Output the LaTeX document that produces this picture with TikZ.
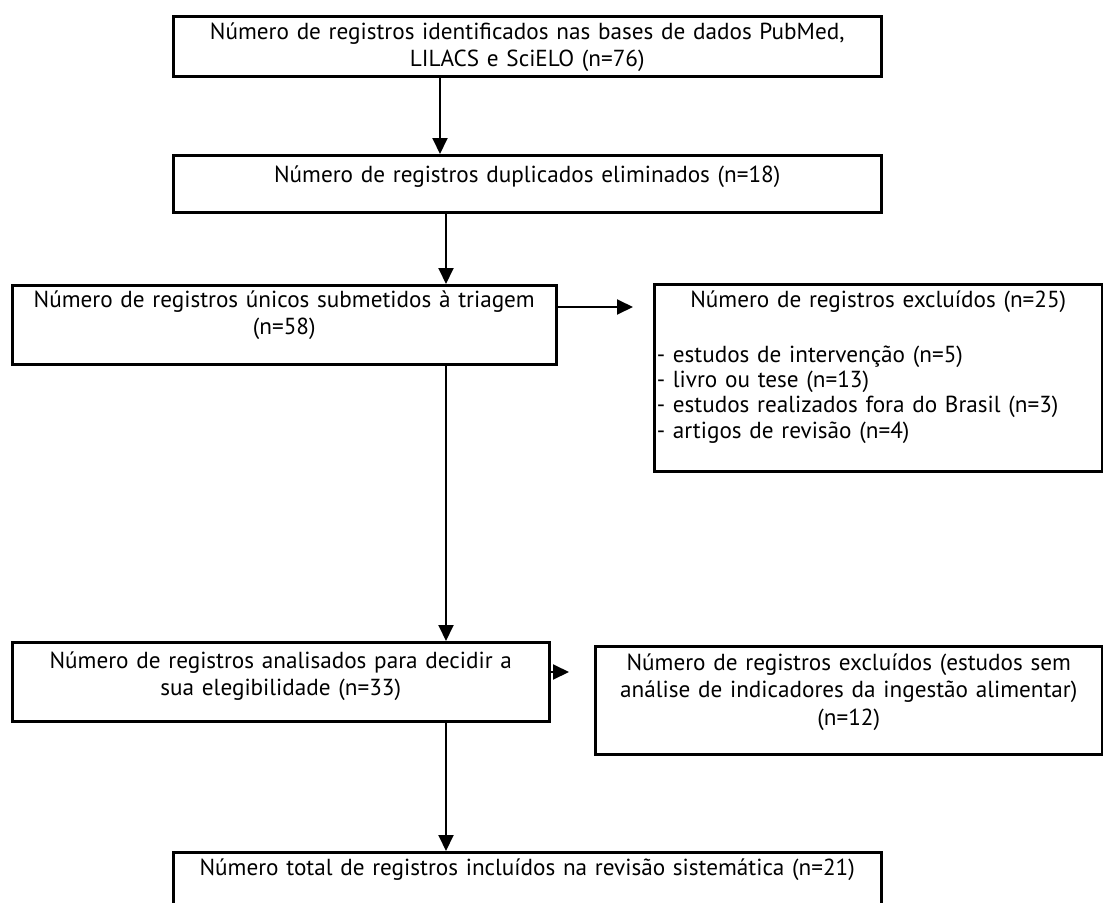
\documentclass[tikz,border=0pt]{standalone}
\usepackage{fontspec}
\setmainfont{PT Sans}
\usepackage{tikz}
\usetikzlibrary{arrows.meta,positioning}
\newcommand{\flowfont}{\fontsize{13.2pt}{15.7pt}\selectfont}
\tikzset{
  flowbox/.style={rectangle, draw=black, line width=1.5pt, anchor=north west, inner xsep=0pt, inner ysep=0pt, align=center, text height=0.46cm, font=\flowfont},
  flowarrow/.style={-{Triangle[length=0.32cm, width=0.3cm]}, line width=1.1pt}
}
\begin{document}
\begin{tikzpicture}[x=0.02cm, y=-0.02cm]
\useasboundingbox (0,0) rectangle (1103,903);

\node[flowbox, text width=14.16cm, text depth=0.74cm] (n1) at (172,15) {Número de registros identificados nas bases de dados PubMed,\\LILACS e SciELO (n=76)};
\node[flowbox, text width=14.16cm, text height=0.54cm, text depth=0.60cm] (n2) at (172,154) {Número de registros duplicados eliminados (n=18)};
\node[flowbox, text width=10.88cm, text height=0.44cm, text depth=1.14cm] (n3) at (11,284) {Número de registros únicos submetidos à triagem\\(n=58)};
\node[flowbox, text width=8.86cm, inner xsep=0.05cm, text depth=3.28cm, align=left, font=\fontsize{13.2pt}{14.4pt}\selectfont] (n4) at (653,283) {\makebox[\linewidth]{Número de registros excluídos (n=25)}\par\vspace{0.59cm}- estudos de intervenção (n=5)\\- livro ou tese (n=13)\\- estudos realizados fora do Brasil (n=3)\\- artigos de revisão (n=4)};
\node[flowbox, text width=10.74cm, text height=0.52cm, text depth=1.06cm] (n5) at (11,641) {Número de registros analisados para decidir a\\sua elegibilidade (n=33)};
\node[flowbox, text width=10.14cm, text height=0.48cm, text depth=1.68cm] (n6) at (594,645) {Número de registros excluídos (estudos sem\\análise de indicadores da ingestão alimentar)\\(n=12)};
\node[flowbox, text width=14.16cm, text depth=1.20cm] (n7) at (172,851) {Número total de registros incluídos na revisão sistemática (n=21)};

\coordinate (ax1) at (440,0);
\coordinate (ax) at (446,0);
\coordinate (t1) at (633,307);
\coordinate (t2) at (569,672);
\draw[flowarrow] (n1.south -| ax1) -- (n2.north -| ax1);
\draw[flowarrow] (n2.south -| ax) -- (n3.north -| ax);
\draw[flowarrow] (n3.south -| ax) -- (n5.north -| ax);
\draw[flowarrow] (n5.south -| ax) -- (n7.north -| ax);
\draw[flowarrow] (n3.east |- t1) -- (t1);
\draw[flowarrow] (n5.east |- t2) -- (t2);
\end{tikzpicture}
\end{document}
